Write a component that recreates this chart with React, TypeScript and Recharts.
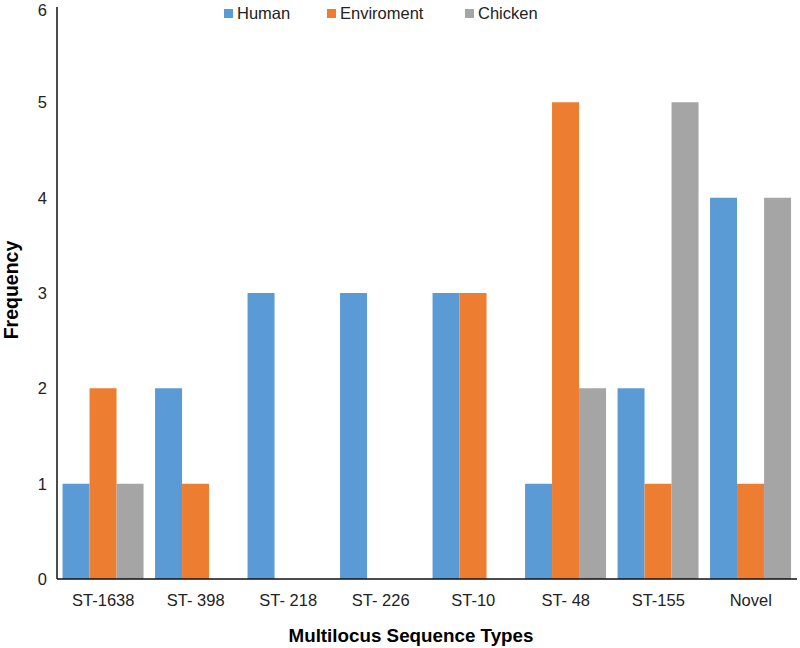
import React from "react";
import { BarChart, Bar, XAxis, YAxis } from "recharts";

const categories = ["ST-1638", "ST- 398", "ST- 218", "ST- 226", "ST-10", "ST- 48", "ST-155", "Novel"];
const human = [1, 2, 3, 3, 3, 1, 2, 4];
const enviroment = [2, 1, 0, 0, 3, 5, 1, 1];
const chicken = [1, 0, 0, 0, 0, 2, 5, 4];
const yTicks = [0, 1, 2, 3, 4, 5, 6];

const seriesInfo = [
  { key: "Human", color: "#5B9BD5" },
  { key: "Enviroment", color: "#ED7D31" },
  { key: "Chicken", color: "#A5A5A5" },
];

const data = categories.map((name, i) => ({
  name,
  Human: human[i],
  Enviroment: enviroment[i],
  Chicken: chicken[i],
}));

const font = "'Liberation Sans', Arial, sans-serif";

function TopLegend() {
  const lefts = [224, 327, 465];
  return (
    <>
      {seriesInfo.map((s, i) => (
        <div
          key={s.key}
          style={{
            position: "absolute",
            left: lefts[i],
            top: 3,
            display: "flex",
            alignItems: "center",
            fontSize: 16.5,
            color: "#222",
            lineHeight: "20px",
          }}
        >
          <span style={{ width: 9, height: 9, background: s.color, display: "inline-block", marginRight: 4 }} />
          {s.key}
        </div>
      ))}
    </>
  );
}

export default function App() {
  return (
    <div style={{ position: "absolute", left: 0, top: 0, width: 800, height: 648, background: "#fff", fontFamily: font }}>
      <BarChart
        width={800}
        height={648}
        data={data}
        margin={{ top: 7, right: 3, bottom: 39, left: 0 }}
        barCategoryGap="6%"
        barGap={0}
      >
        <XAxis
          dataKey="name"
          height={30}
          axisLine={{ stroke: "#111", strokeWidth: 1.5 }}
          tickLine={false}
          tickSize={0}
          tickMargin={15}
          tick={{ fill: "#222", fontSize: 16.5, fontFamily: font }}
          interval={0}
        />
        <YAxis
          width={57}
          domain={[0, 6]}
          ticks={yTicks}
          axisLine={{ stroke: "#111", strokeWidth: 1.5 }}
          tickLine={false}
          tickSize={0}
          tickMargin={10}
          tick={{ fill: "#222", fontSize: 16.5, fontFamily: font }}
        />
        {seriesInfo.map((s) => (
          <Bar key={s.key} dataKey={s.key} fill={s.color} isAnimationActive={false} />
        ))}
        <text
          x={411}
          y={642}
          textAnchor="middle"
          style={{ fontWeight: "bold", fontSize: 18.8, fill: "#000", fontFamily: font }}
        >
          Multilocus Sequence Types
        </text>
        <text
          x={11}
          y={290}
          textAnchor="middle"
          dominantBaseline="central"
          transform="rotate(-90 11 290)"
          style={{ fontWeight: "bold", fontSize: 19.5, fill: "#000", fontFamily: font }}
        >
          Frequency
        </text>
      </BarChart>
      <TopLegend />
    </div>
  );
}
